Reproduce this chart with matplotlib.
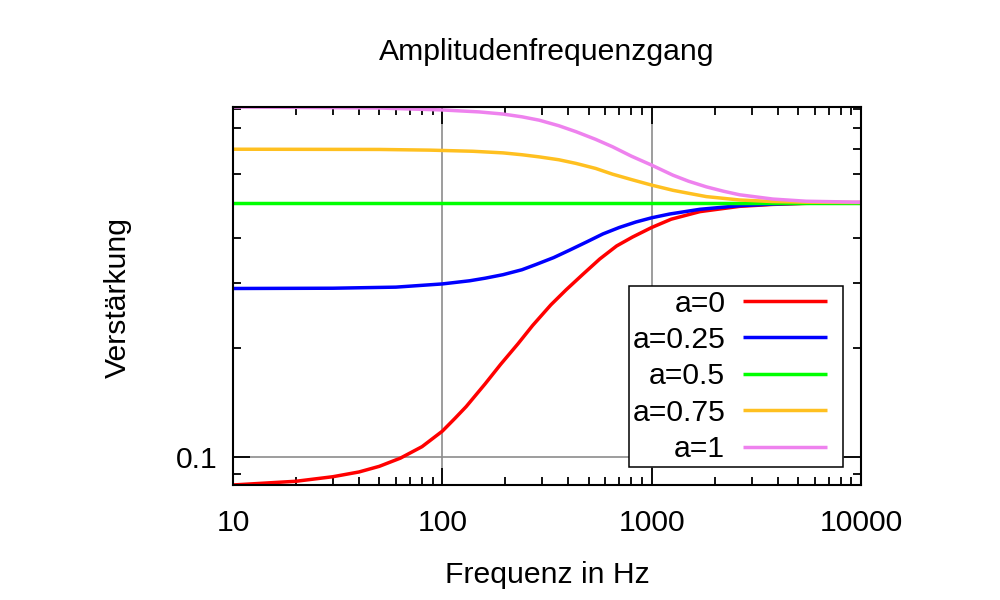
from matplotlib import pyplot as plt
from matplotlib import ticker
from matplotlib.legend_handler import HandlerLine2D
from matplotlib.lines import Line2D
import numpy as np

# Values (frequency in Hz, gain)
f_a0 = [10, 20, 30, 40, 50, 63, 80, 100, 115, 130, 160, 190, 230, 270, 330, 390, 470, 565, 680, 810, 1000, 1240,
        1700, 2630, 3790, 5500, 10000]
v_a0 = [0.0840, 0.0860, 0.0885, 0.0912, 0.0945, 0.0995, 0.1070, 0.1180, 0.1280, 0.1378, 0.1590, 0.1800, 0.2050,
        0.2300, 0.2620, 0.2880, 0.3180, 0.3500, 0.3800, 0.4020, 0.4270, 0.4500, 0.4720, 0.4880, 0.4940, 0.4975, 0.4995]

f_a025 = [10, 30, 60, 100, 135, 160, 195, 240, 280, 340, 405, 490, 585, 700, 840, 1000, 1220, 1700, 2630, 3790,
          5500, 10000]
v_a025 = [0.2905, 0.2910, 0.2930, 0.2990, 0.3050, 0.3100, 0.3170, 0.3270, 0.3380, 0.3530, 0.3700, 0.3900, 0.4100,
          0.4270, 0.4420, 0.4540, 0.4650, 0.4790, 0.4900, 0.4950, 0.4980, 0.4995]

f_a05 = [10, 10000]
v_a05 = [0.5, 0.5]

f_a075 = [10, 50, 87, 140, 195, 240, 290, 360, 435, 540, 650, 800, 1000, 1265, 1500, 1824, 2630, 3790, 5500, 10000]
v_a075 = [0.700, 0.699, 0.696, 0.691, 0.684, 0.676, 0.667, 0.655, 0.640, 0.620, 0.598, 0.578, 0.558, 0.540, 0.530,
          0.519, 0.508, 0.503, 0.501, 0.500]

f_a1 = [10, 20, 50, 100, 150, 195, 240, 290, 360, 435, 540, 650, 800, 1000, 1265, 1500, 1824, 2200, 2630, 3790,
        5470, 10000]
v_a1 = [0.914, 0.912, 0.908, 0.897, 0.886, 0.874, 0.859, 0.841, 0.812, 0.782, 0.745, 0.711, 0.670, 0.633, 0.594,
        0.572, 0.552, 0.537, 0.525, 0.511, 0.504, 0.501]

labels = ["a=0", "a=0.25", "a=0.5", "a=0.75", "a=1"]
colors = ["#ff0000", "#0000ff", "#00ff00", "#ffc020", "#ee82ee"]
x_ticks = [10, 100, 1000, 10000]
x_tick_labels = ["10", "100", "1000", "10000"]
y_ticks = [0.1]
y_tick_labels = ["0.1"]

plt.rcParams["font.family"] = ["Liberation Sans", "DejaVu Sans"]
plt.rcParams["font.size"] = 21.7

fig = plt.figure(figsize=(10, 6), dpi=100)
ax = fig.add_axes([0.233, 0.1917, 0.628, 0.63])

series = [(f_a0, v_a0), (f_a025, v_a025), (f_a05, v_a05), (f_a075, v_a075), (f_a1, v_a1)]
for (f, v), lab, col in zip(series, labels, colors):
    ax.plot(f, v, color=col, linewidth=2.5, label=lab, solid_joinstyle="round", solid_capstyle="butt")

ax.set_xscale("log")
ax.set_yscale("log")
ax.set_xlim(min(f_a0), max(f_a0))
all_v = v_a0 + v_a025 + v_a05 + v_a075 + v_a1
ax.set_ylim(min(all_v), max(all_v))

ax.set_xticks(x_ticks, x_tick_labels)
ax.set_yticks(y_ticks, y_tick_labels)
ax.xaxis.set_minor_locator(ticker.LogLocator(base=10, subs=np.arange(2, 10)))
ax.yaxis.set_minor_locator(ticker.LogLocator(base=10, subs=np.arange(2, 10)))
ax.xaxis.set_minor_formatter(ticker.NullFormatter())
ax.yaxis.set_minor_formatter(ticker.NullFormatter())

ax.tick_params(which="both", direction="in", top=True, right=True, width=1.3, color="black")
ax.tick_params(which="major", length=12)
ax.tick_params(which="minor", length=5.5)
ax.tick_params(axis="x", which="major", pad=17)
ax.tick_params(axis="y", which="major", pad=11)
for sp in ax.spines.values():
    sp.set_linewidth(1.5)

ax.grid(True, which="major", color="#8c8c8c", linewidth=1.2)

# legend: text right-aligned, line sample padded on both sides (gnuplot look)
leg = ax.legend(loc="lower right", markerfirst=False, frameon=True, fancybox=False,
                edgecolor="black", framealpha=1, handlelength=3.63, handletextpad=0.15,
                labelspacing=0.28, borderpad=0.12, borderaxespad=0.6,
                handler_map={Line2D: HandlerLine2D(marker_pad=0.42, numpoints=2)})
leg.get_frame().set_linewidth(1.1)

fig.text(0.547, 1 - 52 / 600, "Amplitudenfrequenzgang", ha="center", va="center")
fig.text(0.547, 1 - 575 / 600, "Frequenz in Hz", ha="center", va="center")
fig.text(0.118, 1 - 297 / 600, "Verstärkung", ha="center", va="center", rotation=90)

plt.savefig("out.png", dpi=100)
